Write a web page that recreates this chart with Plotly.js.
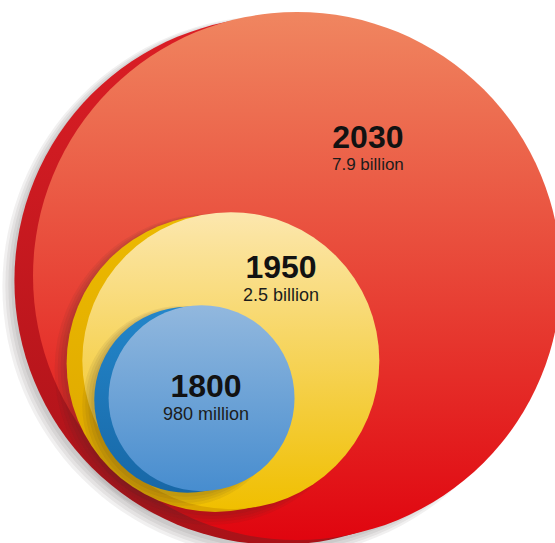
<!DOCTYPE html>
<html><head><meta charset="utf-8">
<script src="https://cdn.plot.ly/plotly-3.0.1.min.js"></script>
<style>html,body{margin:0;padding:0;background:#fff;overflow:hidden;} #chart{width:555px;height:543px;}</style>
</head><body><div id="chart"></div>
<script>
// ---- data ----
const years = ['2030', '1950', '1800'];
const populations = [7.9, 2.5, 0.98];          // world population, billions
const popLabels = ['7.9 billion', '2.5 billion', '980 million'];

// ---- styles ----
const frontTop    = ['#f08660', '#fce7ae', '#92b8de'];
const frontBottom = ['#e0050f', '#f0bf00', '#478dcf'];
const backTop     = ['#dc1e25', '#ecb900', '#2386ca'];
const backBottom  = ['#a91218', '#dca600', '#1867a6'];

const W = 555, H = 543;
const K = 187.85;                                // px diameter per sqrt(billion) (area-proportional)
const diam = populations.map(v => K * Math.sqrt(v));
const rad = diam.map(d => d / 2);

// nested layout: each circle sits inside the previous, toward the lower-left
const ang = 128 * Math.PI / 180, ux = Math.cos(ang), uy = Math.sin(ang);
const gap = 8;
const cx = [297], cy = [276];
for (let i = 1; i < populations.length; i++) {
  const d = rad[i - 1] - rad[i] - gap;
  cx.push(cx[i - 1] + d * ux);
  cy.push(cy[i - 1] + d * uy);
}
// label placement (page px): centre of the two-line label block
const labelPos = [[368, 146.5], [281, 276.5], [206, 395.5]];
const yearFont = [32, 32, 32];
const subFont = [17, 18, 18];

const traces = [];
function circ(x, y, size, color, grad, opacity) {
  const m = {size: size, color: color, line: {width: 0}, opacity: opacity == null ? 1 : opacity};
  if (grad) m.gradient = {type: 'vertical', color: grad};
  traces.push({type: 'scatter', mode: 'markers', x: [x], y: [y], marker: m,
               hoverinfo: 'skip', showlegend: false, cliponaxis: false});
}
for (let i = 0; i < populations.length; i++) {
  const r = rad[i];
  const bdx = -(12 + 0.025 * r), bdy = 0.018 * r;
  // soft shadow (lower-left)
  for (let s = 0; s < 4; s++) {
    circ(cx[i] + bdx - 2 - s, cy[i] + bdy + 3 + s, diam[i] + 2 + s * 4, 'rgba(60,40,40,0.07)');
  }
  // back (darker) disc
  circ(cx[i] + bdx, cy[i] + bdy, diam[i], backTop[i], backBottom[i]);
  // front (lit) disc
  circ(cx[i], cy[i], diam[i], frontTop[i], frontBottom[i]);
}

const annotations = [];
for (let i = 0; i < years.length; i++) {
  annotations.push({x: labelPos[i][0], y: labelPos[i][1], xref: 'x', yref: 'y',
    text: '<span style="font-size:' + yearFont[i] + 'px;font-weight:bold;fill:#121212">' + years[i] + '</span><br>' + popLabels[i],
    showarrow: false, xanchor: 'center', yanchor: 'middle', align: 'center', borderpad: 0,
    font: {family: 'Liberation Sans, Arial, sans-serif', size: subFont[i], color: '#1c1c1c'}});
}

const layout = {
  width: W, height: H,
  margin: {l: 0, r: 0, t: 0, b: 0},
  paper_bgcolor: '#ffffff', plot_bgcolor: '#ffffff',
  xaxis: {range: [0, W], visible: false, fixedrange: true},
  yaxis: {range: [H, 0], visible: false, fixedrange: true},
  showlegend: false, hovermode: false,
  annotations: annotations
};
Plotly.newPlot('chart', traces, layout, {staticPlot: true, displayModeBar: false});
</script>
</body></html>
